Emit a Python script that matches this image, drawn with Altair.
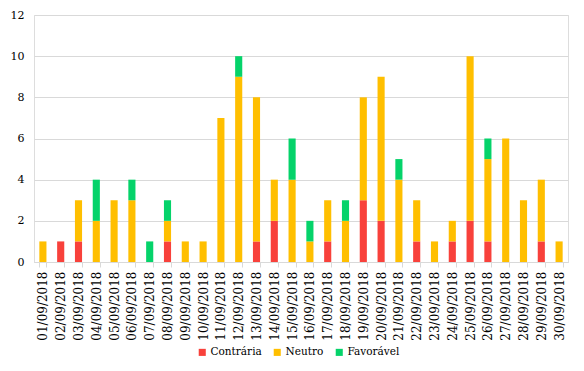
import altair as alt
import pandas as pd

dates = ["%02d/09/2018" % d for d in range(1, 31)]
series = ["Contrária", "Neutro", "Favorável"]
contraria = [0, 1, 1, 0, 0, 0, 0, 1, 0, 0, 0, 0, 1, 2, 0, 0, 1, 0, 3, 2, 0, 1, 0, 1, 2, 1, 0, 0, 1, 0]
neutro = [1, 0, 2, 2, 3, 3, 0, 1, 1, 1, 7, 9, 7, 2, 4, 1, 2, 2, 5, 7, 4, 2, 1, 1, 8, 4, 6, 3, 3, 1]
favoravel = [0, 0, 0, 2, 0, 1, 1, 1, 0, 0, 0, 1, 0, 0, 2, 1, 0, 1, 0, 0, 1, 0, 0, 0, 0, 1, 0, 0, 0, 0]
colors = ["#F8413B", "#FFBF00", "#05D36A"]
y_ticks = [0, 2, 4, 6, 8, 10, 12]

rows = []
for s_i, (name, vals) in enumerate(zip(series, [contraria, neutro, favoravel])):
    for d, v in zip(dates, vals):
        rows.append({"data": d, "tipo": name, "valor": v, "ordem": s_i})
df = pd.DataFrame(rows)

FONT = "DejaVu Serif"

chart = alt.Chart(df).mark_bar().encode(
    x=alt.X("data:N", sort=dates, title=None,
            scale=alt.Scale(paddingInner=0.6, paddingOuter=0.3),
            axis=alt.Axis(labelAngle=-90, labelFont=FONT, labelFontSize=12,
                          labelColor="#000000", labelPadding=4,
                          domainColor="#D9D9D9", tickColor="#D9D9D9",
                          tickSize=5, tickBand="extent", grid=False)),
    y=alt.Y("valor:Q", stack="zero", title=None,
            scale=alt.Scale(domain=[0, 12], nice=False),
            axis=alt.Axis(values=y_ticks, labelFont=FONT, labelFontSize=11,
                          labelColor="#000000", labelPadding=10,
                          domain=False, ticks=False,
                          gridColor="#D9D9D9", gridWidth=1)),
    color=alt.Color("tipo:N", sort=series,
                    scale=alt.Scale(domain=series, range=colors),
                    legend=alt.Legend(title=None, orient="none", direction="horizontal",
                                      legendX=163, legendY=332,
                                      symbolType="square", symbolSize=50,
                                      symbolStrokeWidth=0,
                                      labelFont=FONT, labelFontSize=10.5,
                                      labelColor="#000000", columnPadding=10,
                                      symbolOffset=0, labelOffset=3)),
    order=alt.Order("ordem:Q", sort="ascending"),
).properties(
    width=534,
    height=247,
    autosize=alt.AutoSizeParams(type="none"),
    padding={"left": 26, "top": 7, "right": 8, "bottom": 101},
).configure_view(
    stroke=None
).configure(
    background="white",
    font=FONT
)

chart.save("out.html", embed_options={"renderer": "svg", "actions": False})
